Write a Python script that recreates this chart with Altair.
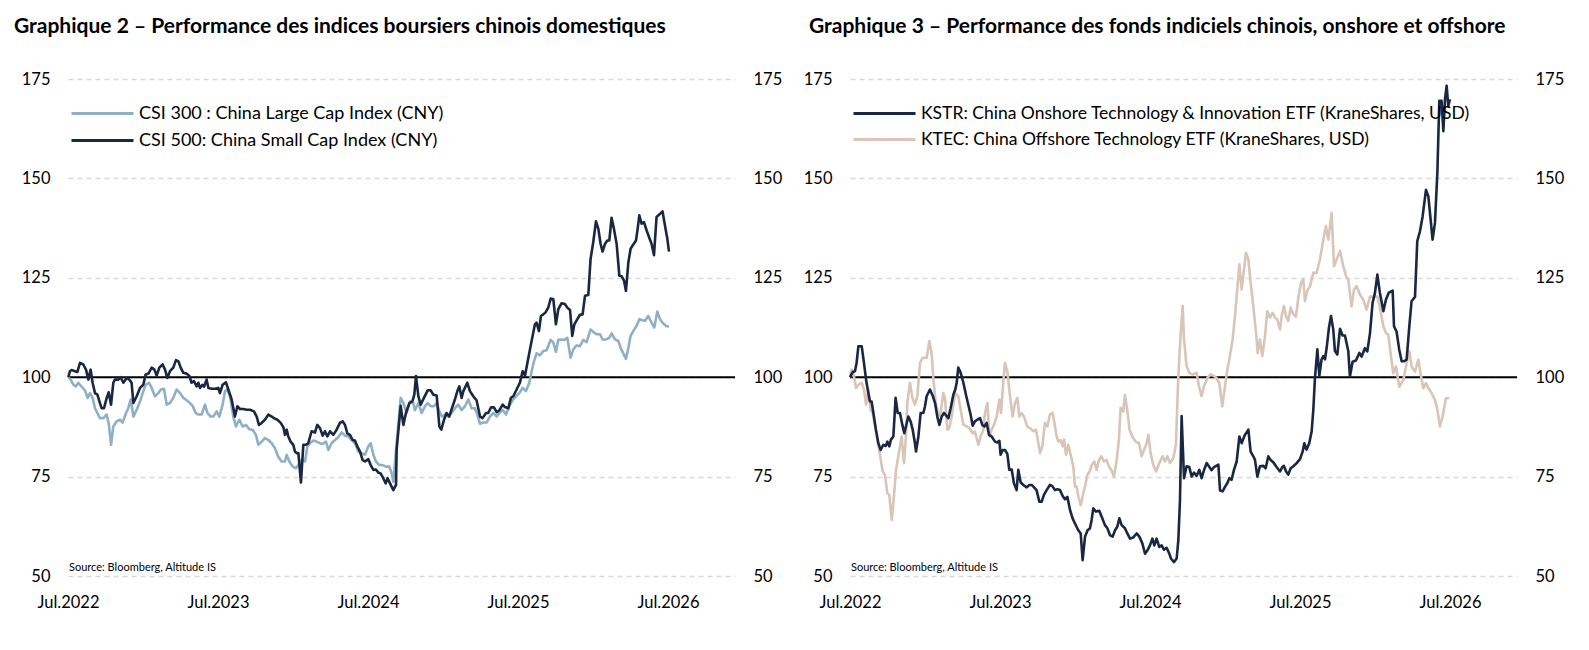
import altair as alt
import pandas as pd

FONT = "Lato"
NAVY = "#1a2742"
BLUE = "#8db0c6"
BEIGE = "#d9c4b8"

X_TICKS = [2022.5, 2023.5, 2024.5, 2025.5, 2026.5]
Y_TICKS = [50, 75, 100, 125, 150, 175]
SOURCE = "Source: Bloomberg, Altitude IS"

TITLE_LEFT = "Graphique 2 – Performance des indices boursiers chinois domestiques"
TITLE_RIGHT = "Graphique 3 – Performance des fonds indiciels chinois, onshore et offshore"

NAME_CSI300 = "CSI 300 : China Large Cap Index (CNY)"
NAME_CSI500 = "CSI 500: China Small Cap Index (CNY)"
NAME_KSTR = "KSTR: China Onshore Technology & Innovation ETF (KraneShares, USD)"
NAME_KTEC = "KTEC: China Offshore Technology ETF (KraneShares, USD)"

# (decimal year, index level, base 100)
csi300 = [
    (2022.502, 100.0), (2022.518, 99.4), (2022.536, 98.1), (2022.553, 97.7), (2022.569, 98.6), (2022.591, 97.6),
    (2022.613, 96.7), (2022.631, 94.8), (2022.647, 96.0), (2022.664, 94.8), (2022.680, 92.2), (2022.696, 91.0),
    (2022.713, 89.7), (2022.736, 89.7), (2022.758, 90.6), (2022.773, 88.0), (2022.787, 83.0), (2022.802, 87.6),
    (2022.824, 88.9), (2022.847, 89.3), (2022.864, 88.6), (2022.887, 91.0), (2022.902, 92.2), (2022.918, 94.4),
    (2022.936, 90.1), (2022.958, 91.8), (2022.980, 93.9), (2022.998, 96.0), (2023.018, 98.1), (2023.040, 98.6),
    (2023.058, 97.3), (2023.080, 95.2), (2023.102, 96.0), (2023.120, 96.9), (2023.140, 97.1), (2023.158, 93.1),
    (2023.180, 93.5), (2023.202, 94.8), (2023.224, 96.9), (2023.247, 96.0), (2023.269, 94.8), (2023.291, 94.2),
    (2023.313, 93.5), (2023.331, 92.8), (2023.351, 91.0), (2023.369, 90.6), (2023.391, 90.6), (2023.413, 93.1),
    (2023.429, 91.0), (2023.451, 90.1), (2023.469, 90.1), (2023.491, 91.4), (2023.509, 90.1), (2023.531, 93.1),
    (2023.547, 96.5), (2023.562, 96.9), (2023.580, 95.2), (2023.602, 90.1), (2023.620, 87.6), (2023.642, 89.3),
    (2023.664, 87.6), (2023.687, 88.0), (2023.709, 86.9), (2023.731, 86.8), (2023.753, 85.5), (2023.769, 83.0),
    (2023.791, 83.8), (2023.813, 84.7), (2023.836, 84.2), (2023.858, 83.4), (2023.880, 82.1), (2023.902, 80.0),
    (2023.924, 78.8), (2023.947, 78.8), (2023.958, 80.5), (2023.976, 78.8), (2023.998, 77.5), (2024.020, 77.1),
    (2024.036, 77.9), (2024.058, 79.2), (2024.080, 78.8), (2024.096, 82.6), (2024.113, 83.4), (2024.136, 84.1),
    (2024.158, 83.8), (2024.180, 83.4), (2024.198, 83.2), (2024.220, 83.8), (2024.236, 81.7), (2024.258, 83.4),
    (2024.280, 84.2), (2024.302, 84.9), (2024.324, 86.1), (2024.347, 85.3), (2024.369, 85.1), (2024.391, 84.2),
    (2024.413, 83.4), (2024.436, 81.3), (2024.458, 80.9), (2024.480, 80.5), (2024.502, 82.6), (2024.518, 83.4),
    (2024.536, 80.5), (2024.553, 78.8), (2024.576, 77.9), (2024.598, 77.9), (2024.620, 77.5), (2024.642, 77.5),
    (2024.658, 75.8), (2024.669, 73.7), (2024.691, 83.4), (2024.718, 94.8), (2024.736, 93.5), (2024.758, 91.0),
    (2024.780, 93.9), (2024.802, 93.5), (2024.813, 91.7), (2024.836, 93.5), (2024.858, 91.0), (2024.880, 92.7),
    (2024.898, 93.5), (2024.918, 92.7), (2024.940, 92.7), (2024.958, 93.5), (2024.976, 91.4), (2024.993, 90.1),
    (2025.013, 90.6), (2025.036, 90.1), (2025.058, 91.0), (2025.080, 92.2), (2025.102, 93.1), (2025.124, 91.7),
    (2025.147, 92.7), (2025.169, 94.4), (2025.191, 92.2), (2025.213, 92.2), (2025.229, 90.6), (2025.247, 88.3),
    (2025.269, 88.6), (2025.291, 88.6), (2025.313, 90.1), (2025.336, 91.0), (2025.358, 90.1), (2025.376, 91.0),
    (2025.398, 91.8), (2025.420, 90.6), (2025.442, 92.7), (2025.464, 94.2), (2025.487, 95.2), (2025.509, 96.0),
    (2025.531, 97.3), (2025.553, 96.5), (2025.576, 98.6), (2025.591, 101.5), (2025.607, 104.0), (2025.624, 106.0),
    (2025.647, 105.5), (2025.669, 106.6), (2025.691, 106.8), (2025.718, 109.4), (2025.736, 108.7), (2025.753, 106.4),
    (2025.769, 109.4), (2025.791, 109.5), (2025.809, 109.4), (2025.829, 109.9), (2025.851, 104.9), (2025.869, 107.0),
    (2025.891, 108.0), (2025.913, 107.8), (2025.936, 109.4), (2025.958, 108.8), (2025.984, 112.0), (2026.002, 111.4),
    (2026.024, 110.8), (2026.047, 110.8), (2026.064, 109.5), (2026.087, 109.5), (2026.109, 109.9), (2026.124, 111.0),
    (2026.147, 109.5), (2026.169, 109.1), (2026.184, 107.4), (2026.202, 106.0), (2026.220, 104.6), (2026.236, 107.4),
    (2026.251, 110.4), (2026.269, 111.6), (2026.291, 112.9), (2026.309, 114.6), (2026.324, 114.4), (2026.347, 114.2),
    (2026.369, 115.4), (2026.391, 113.7), (2026.409, 112.5), (2026.429, 116.5), (2026.447, 114.6), (2026.464, 113.7),
    (2026.487, 112.9), (2026.507, 112.7),
]

csi500 = [
    (2022.502, 100.0), (2022.513, 101.5), (2022.524, 101.8), (2022.547, 101.5), (2022.562, 101.3), (2022.580, 103.6),
    (2022.602, 103.2), (2022.620, 101.9), (2022.636, 99.4), (2022.651, 101.9), (2022.664, 98.6), (2022.680, 96.0),
    (2022.696, 95.6), (2022.713, 93.5), (2022.724, 92.2), (2022.740, 92.2), (2022.758, 94.8), (2022.771, 96.2),
    (2022.787, 93.1), (2022.802, 98.6), (2022.813, 99.4), (2022.836, 99.4), (2022.851, 100.0), (2022.869, 98.6),
    (2022.891, 99.8), (2022.909, 99.4), (2022.924, 98.6), (2022.936, 93.5), (2022.958, 95.2), (2022.980, 97.3),
    (2023.002, 98.1), (2023.018, 100.7), (2023.036, 100.9), (2023.058, 102.4), (2023.076, 101.9), (2023.091, 100.4),
    (2023.109, 102.4), (2023.131, 103.2), (2023.147, 101.9), (2023.162, 99.8), (2023.180, 101.5), (2023.202, 102.4),
    (2023.220, 104.3), (2023.236, 104.0), (2023.251, 102.4), (2023.269, 101.1), (2023.291, 100.9), (2023.309, 100.3),
    (2023.324, 98.6), (2023.340, 99.0), (2023.358, 97.7), (2023.369, 98.6), (2023.380, 97.3), (2023.396, 98.1),
    (2023.407, 97.6), (2023.424, 99.4), (2023.436, 97.3), (2023.458, 97.1), (2023.480, 97.1), (2023.502, 97.3),
    (2023.513, 96.0), (2023.531, 98.1), (2023.553, 98.7), (2023.569, 96.9), (2023.591, 94.4), (2023.613, 90.1),
    (2023.629, 92.7), (2023.647, 92.0), (2023.669, 92.0), (2023.691, 91.8), (2023.713, 91.8), (2023.740, 91.4),
    (2023.758, 90.1), (2023.773, 88.0), (2023.791, 88.5), (2023.813, 89.3), (2023.836, 90.6), (2023.858, 90.1),
    (2023.873, 89.7), (2023.896, 89.3), (2023.918, 88.5), (2023.936, 87.4), (2023.947, 85.5), (2023.958, 86.8),
    (2023.969, 85.1), (2023.984, 83.8), (2024.002, 83.0), (2024.013, 81.3), (2024.024, 80.9), (2024.036, 80.9),
    (2024.053, 73.5), (2024.069, 83.0), (2024.087, 83.0), (2024.102, 83.4), (2024.124, 86.4), (2024.147, 86.1),
    (2024.162, 88.0), (2024.180, 87.2), (2024.198, 85.3), (2024.213, 86.4), (2024.229, 85.1), (2024.247, 86.4),
    (2024.269, 85.5), (2024.291, 86.8), (2024.313, 88.5), (2024.331, 88.9), (2024.347, 88.0), (2024.362, 85.9),
    (2024.380, 85.5), (2024.398, 84.2), (2024.413, 84.1), (2024.429, 82.6), (2024.447, 81.3), (2024.464, 79.2),
    (2024.480, 78.8), (2024.502, 79.4), (2024.518, 77.9), (2024.536, 76.7), (2024.553, 76.8), (2024.569, 76.0),
    (2024.584, 75.8), (2024.602, 74.6), (2024.618, 73.3), (2024.631, 74.6), (2024.647, 73.3), (2024.669, 71.6),
    (2024.687, 72.9), (2024.691, 81.7), (2024.718, 92.8), (2024.736, 88.0), (2024.753, 91.0), (2024.776, 93.5),
    (2024.796, 93.9), (2024.809, 95.6), (2024.820, 100.3), (2024.836, 95.2), (2024.851, 93.1), (2024.873, 94.8),
    (2024.898, 96.7), (2024.918, 96.7), (2024.936, 95.6), (2024.958, 95.4), (2024.976, 87.6), (2024.989, 86.8),
    (2025.007, 89.3), (2025.024, 91.0), (2025.042, 90.1), (2025.060, 92.2), (2025.078, 94.2), (2025.096, 96.5),
    (2025.109, 97.7), (2025.124, 94.8), (2025.136, 96.5), (2025.162, 98.6), (2025.180, 96.5), (2025.202, 95.2),
    (2025.224, 94.2), (2025.247, 90.1), (2025.264, 89.7), (2025.287, 91.0), (2025.302, 91.0), (2025.320, 92.4),
    (2025.340, 92.4), (2025.358, 91.2), (2025.376, 91.7), (2025.398, 93.1), (2025.413, 92.5), (2025.436, 92.2),
    (2025.453, 94.8), (2025.469, 95.2), (2025.491, 96.9), (2025.513, 98.6), (2025.531, 101.5), (2025.547, 100.4),
    (2025.564, 103.8), (2025.580, 107.0), (2025.598, 110.4), (2025.613, 113.3), (2025.624, 113.7), (2025.640, 111.6),
    (2025.653, 115.4), (2025.669, 115.8), (2025.684, 116.3), (2025.702, 117.5), (2025.718, 119.8), (2025.736, 119.6),
    (2025.753, 113.3), (2025.769, 117.1), (2025.791, 118.6), (2025.813, 118.4), (2025.829, 117.5), (2025.847, 116.9),
    (2025.862, 110.4), (2025.876, 113.3), (2025.896, 114.6), (2025.913, 115.7), (2025.931, 115.8), (2025.947, 120.5),
    (2025.969, 120.7), (2025.984, 129.7), (2026.002, 134.0), (2026.020, 139.2), (2026.036, 137.3), (2026.051, 133.5),
    (2026.064, 131.6), (2026.080, 133.5), (2026.096, 134.4), (2026.109, 134.4), (2026.124, 140.1), (2026.140, 137.3),
    (2026.158, 133.5), (2026.176, 125.5), (2026.191, 125.4), (2026.207, 124.3), (2026.220, 121.7), (2026.236, 128.9),
    (2026.251, 132.3), (2026.269, 133.4), (2026.287, 134.4), (2026.298, 137.3), (2026.309, 140.7), (2026.324, 138.6),
    (2026.340, 139.0), (2026.358, 136.9), (2026.376, 135.0), (2026.391, 133.5), (2026.407, 130.7), (2026.424, 140.3),
    (2026.442, 140.9), (2026.464, 141.7), (2026.482, 137.7), (2026.496, 134.8), (2026.507, 131.6),
]

kstr = [
    (2022.500, 100.0), (2022.518, 101.3), (2022.533, 101.5), (2022.544, 103.6), (2022.556, 107.8), (2022.578, 107.8),
    (2022.593, 103.6), (2022.607, 99.4), (2022.618, 96.9), (2022.633, 93.9), (2022.644, 93.9), (2022.656, 91.0),
    (2022.673, 86.8), (2022.689, 83.4), (2022.704, 81.7), (2022.722, 83.0), (2022.738, 82.7), (2022.749, 83.8),
    (2022.762, 82.6), (2022.773, 84.3), (2022.789, 85.1), (2022.804, 94.8), (2022.818, 91.0), (2022.833, 91.0),
    (2022.849, 88.0), (2022.862, 85.9), (2022.889, 90.1), (2022.904, 88.9), (2022.918, 86.8), (2022.933, 83.4),
    (2022.940, 81.3), (2022.956, 85.1), (2022.971, 91.0), (2022.989, 91.0), (2023.000, 92.7), (2023.011, 95.2),
    (2023.033, 96.9), (2023.051, 95.4), (2023.067, 93.5), (2023.082, 90.1), (2023.096, 88.0), (2023.111, 90.1),
    (2023.127, 91.0), (2023.156, 89.7), (2023.171, 92.2), (2023.189, 95.6), (2023.202, 96.9), (2023.211, 98.6),
    (2023.222, 102.4), (2023.238, 101.1), (2023.256, 98.6), (2023.273, 95.6), (2023.291, 92.7), (2023.304, 90.6),
    (2023.318, 87.8), (2023.333, 88.9), (2023.349, 89.3), (2023.367, 89.7), (2023.382, 88.0), (2023.396, 87.6),
    (2023.411, 88.5), (2023.427, 85.5), (2023.444, 85.1), (2023.467, 83.8), (2023.482, 83.6), (2023.496, 84.0),
    (2023.504, 80.5), (2023.518, 81.7), (2023.533, 81.7), (2023.549, 80.7), (2023.562, 76.7), (2023.578, 76.8),
    (2023.593, 73.3), (2023.611, 71.6), (2023.622, 76.7), (2023.638, 73.5), (2023.656, 72.9), (2023.678, 72.3),
    (2023.696, 72.9), (2023.711, 72.9), (2023.727, 72.3), (2023.744, 71.6), (2023.762, 68.7), (2023.778, 68.7),
    (2023.793, 70.4), (2023.811, 71.6), (2023.833, 72.9), (2023.849, 72.6), (2023.867, 71.6), (2023.882, 71.8),
    (2023.900, 71.6), (2023.918, 70.1), (2023.933, 69.3), (2023.949, 69.9), (2023.967, 66.6), (2023.984, 64.5),
    (2024.000, 63.2), (2024.022, 61.5), (2024.038, 60.7), (2024.051, 54.0), (2024.067, 59.9), (2024.084, 61.5),
    (2024.100, 62.0), (2024.111, 64.1), (2024.122, 67.0), (2024.140, 66.2), (2024.162, 66.4), (2024.178, 64.9),
    (2024.200, 62.8), (2024.216, 62.0), (2024.233, 60.3), (2024.251, 59.9), (2024.267, 61.5), (2024.282, 62.4),
    (2024.296, 64.5), (2024.311, 62.8), (2024.333, 62.0), (2024.349, 60.7), (2024.367, 59.4), (2024.389, 59.7),
    (2024.411, 60.7), (2024.429, 59.9), (2024.449, 58.2), (2024.467, 55.6), (2024.482, 56.4), (2024.500, 57.7),
    (2024.516, 59.4), (2024.529, 57.7), (2024.544, 59.4), (2024.562, 57.3), (2024.578, 57.7), (2024.593, 56.6),
    (2024.611, 57.1), (2024.627, 55.8), (2024.640, 54.4), (2024.660, 53.5), (2024.678, 54.4), (2024.689, 59.0),
    (2024.700, 69.1), (2024.711, 90.2), (2024.727, 74.6), (2024.744, 77.6), (2024.762, 77.4), (2024.778, 75.0),
    (2024.793, 76.0), (2024.811, 75.2), (2024.829, 76.7), (2024.844, 74.6), (2024.860, 76.6), (2024.878, 78.4),
    (2024.896, 77.4), (2024.911, 76.6), (2024.927, 77.4), (2024.956, 78.0), (2024.967, 71.5), (2024.984, 71.3),
    (2025.000, 72.4), (2025.016, 73.4), (2025.029, 74.6), (2025.044, 74.2), (2025.060, 76.7), (2025.078, 78.8),
    (2025.096, 85.1), (2025.111, 83.4), (2025.133, 85.5), (2025.156, 86.8), (2025.171, 81.3), (2025.189, 80.1),
    (2025.200, 79.2), (2025.216, 75.0), (2025.233, 77.6), (2025.256, 77.7), (2025.271, 77.1), (2025.289, 80.1),
    (2025.304, 79.2), (2025.322, 78.6), (2025.344, 77.4), (2025.367, 76.3), (2025.382, 77.4), (2025.393, 77.7),
    (2025.407, 76.3), (2025.422, 75.5), (2025.438, 77.1), (2025.456, 77.6), (2025.478, 78.4), (2025.500, 79.4),
    (2025.518, 81.3), (2025.529, 83.4), (2025.544, 81.8), (2025.562, 83.4), (2025.578, 86.4), (2025.589, 91.8),
    (2025.600, 99.8), (2025.616, 107.0), (2025.629, 100.3), (2025.644, 104.5), (2025.656, 105.3), (2025.667, 104.5),
    (2025.678, 107.4), (2025.693, 112.4), (2025.707, 115.4), (2025.722, 112.0), (2025.733, 106.6), (2025.749, 105.7),
    (2025.767, 112.2), (2025.784, 110.5), (2025.800, 110.5), (2025.822, 106.6), (2025.833, 100.2), (2025.851, 103.9),
    (2025.873, 104.2), (2025.896, 106.1), (2025.911, 105.2), (2025.933, 107.3), (2025.949, 106.5), (2025.967, 111.1),
    (2025.984, 118.7), (2026.000, 121.2), (2026.016, 125.8), (2026.033, 121.2), (2026.056, 116.6), (2026.073, 119.5),
    (2026.091, 121.2), (2026.118, 121.8), (2026.127, 112.8), (2026.144, 111.5), (2026.162, 106.9), (2026.178, 104.0),
    (2026.193, 104.0), (2026.211, 104.4), (2026.229, 112.8), (2026.244, 119.1), (2026.267, 120.2), (2026.282, 134.2),
    (2026.300, 136.7), (2026.318, 140.5), (2026.340, 147.1), (2026.356, 145.5), (2026.371, 139.7), (2026.384, 134.6),
    (2026.400, 138.8), (2026.416, 151.4), (2026.429, 169.5), (2026.444, 169.5), (2026.456, 161.9), (2026.467, 169.9),
    (2026.478, 173.3), (2026.489, 168.2), (2026.500, 169.9),
]

ktec = [
    (2022.500, 100.0), (2022.511, 101.9), (2022.522, 101.1), (2022.540, 97.3), (2022.556, 98.1), (2022.578, 98.6),
    (2022.593, 96.9), (2022.607, 93.1), (2022.622, 96.9), (2022.638, 91.8), (2022.651, 91.0), (2022.667, 87.6),
    (2022.682, 84.3), (2022.700, 80.5), (2022.718, 76.3), (2022.733, 75.4), (2022.749, 70.8), (2022.762, 70.4),
    (2022.778, 64.1), (2022.789, 68.3), (2022.807, 76.7), (2022.829, 81.7), (2022.844, 85.1), (2022.860, 78.4),
    (2022.873, 85.1), (2022.882, 93.5), (2022.900, 98.6), (2022.916, 94.8), (2022.933, 93.1), (2022.949, 95.2),
    (2022.967, 103.6), (2022.984, 104.9), (2023.011, 104.9), (2023.029, 109.1), (2023.044, 106.1), (2023.056, 99.4),
    (2023.071, 93.9), (2023.089, 90.1), (2023.104, 91.0), (2023.122, 96.0), (2023.133, 94.8), (2023.149, 86.8),
    (2023.162, 87.2), (2023.178, 90.1), (2023.200, 96.0), (2023.222, 95.2), (2023.238, 91.8), (2023.256, 88.0),
    (2023.282, 87.6), (2023.300, 87.0), (2023.318, 85.9), (2023.333, 86.3), (2023.356, 83.0), (2023.371, 85.1),
    (2023.389, 86.8), (2023.400, 91.0), (2023.416, 93.5), (2023.429, 85.1), (2023.444, 86.8), (2023.460, 88.0),
    (2023.478, 90.1), (2023.496, 94.4), (2023.507, 91.0), (2023.522, 98.6), (2023.533, 103.6), (2023.549, 101.5),
    (2023.567, 95.2), (2023.584, 90.1), (2023.600, 93.5), (2023.616, 94.8), (2023.629, 90.1), (2023.644, 91.0),
    (2023.660, 90.1), (2023.682, 87.6), (2023.700, 87.2), (2023.722, 86.4), (2023.740, 86.8), (2023.756, 83.4),
    (2023.767, 80.9), (2023.782, 82.6), (2023.800, 88.5), (2023.816, 87.6), (2023.833, 90.6), (2023.851, 91.0),
    (2023.867, 87.6), (2023.878, 85.1), (2023.889, 83.8), (2023.904, 84.2), (2023.918, 82.6), (2023.927, 84.3),
    (2023.940, 80.5), (2023.956, 83.0), (2023.971, 80.5), (2023.989, 77.5), (2024.000, 72.5), (2024.011, 72.5),
    (2024.022, 70.0), (2024.038, 67.8), (2024.051, 70.0), (2024.067, 72.5), (2024.082, 75.4), (2024.098, 76.3),
    (2024.113, 78.0), (2024.129, 78.8), (2024.144, 76.7), (2024.160, 79.2), (2024.176, 80.1), (2024.193, 78.8),
    (2024.211, 79.2), (2024.227, 77.5), (2024.242, 76.7), (2024.260, 75.0), (2024.278, 79.2), (2024.293, 84.3),
    (2024.304, 92.3), (2024.322, 91.4), (2024.333, 95.6), (2024.351, 91.0), (2024.364, 86.8), (2024.382, 85.1),
    (2024.404, 83.8), (2024.427, 83.4), (2024.444, 80.1), (2024.460, 81.7), (2024.478, 83.4), (2024.489, 85.5),
    (2024.504, 80.9), (2024.522, 77.9), (2024.540, 76.3), (2024.562, 78.4), (2024.584, 80.1), (2024.600, 78.8),
    (2024.616, 80.1), (2024.633, 78.4), (2024.656, 79.7), (2024.673, 83.0), (2024.689, 100.3), (2024.704, 110.4),
    (2024.718, 117.9), (2024.727, 109.5), (2024.744, 102.8), (2024.762, 101.1), (2024.784, 100.7), (2024.811, 101.1),
    (2024.827, 97.7), (2024.844, 95.2), (2024.860, 97.7), (2024.882, 99.8), (2024.904, 100.7), (2024.927, 100.3),
    (2024.944, 99.8), (2024.962, 98.6), (2024.982, 92.7), (2025.000, 97.7), (2025.016, 101.9), (2025.033, 105.3),
    (2025.051, 109.5), (2025.067, 115.4), (2025.082, 122.1), (2025.096, 128.4), (2025.111, 122.1), (2025.127, 127.1),
    (2025.140, 131.3), (2025.156, 129.7), (2025.171, 123.8), (2025.189, 117.9), (2025.207, 111.2), (2025.218, 106.1),
    (2025.233, 109.5), (2025.249, 105.3), (2025.267, 110.3), (2025.282, 116.6), (2025.300, 115.0), (2025.318, 116.2),
    (2025.333, 115.0), (2025.349, 114.5), (2025.367, 112.0), (2025.378, 115.4), (2025.393, 117.9), (2025.407, 115.4),
    (2025.422, 114.1), (2025.438, 117.5), (2025.456, 115.8), (2025.473, 115.2), (2025.489, 120.0), (2025.507, 123.8),
    (2025.522, 124.6), (2025.533, 119.2), (2025.549, 121.7), (2025.567, 122.9), (2025.589, 126.3), (2025.611, 126.2),
    (2025.633, 129.6), (2025.656, 134.6), (2025.673, 138.0), (2025.689, 134.6), (2025.711, 141.3), (2025.727, 127.9),
    (2025.744, 129.6), (2025.767, 131.7), (2025.789, 127.9), (2025.807, 125.4), (2025.822, 124.5), (2025.844, 117.8),
    (2025.860, 122.0), (2025.878, 122.9), (2025.900, 120.8), (2025.922, 119.5), (2025.944, 117.0), (2025.967, 120.3),
    (2025.993, 120.2), (2026.016, 120.3), (2026.033, 117.4), (2026.056, 112.8), (2026.073, 111.1), (2026.089, 110.7),
    (2026.104, 106.1), (2026.122, 101.0), (2026.140, 102.7), (2026.162, 97.6), (2026.189, 99.3), (2026.216, 104.4),
    (2026.229, 106.5), (2026.244, 102.7), (2026.267, 101.4), (2026.289, 104.4), (2026.304, 101.0), (2026.322, 97.2),
    (2026.340, 98.5), (2026.356, 97.2), (2026.378, 96.0), (2026.400, 94.3), (2026.416, 91.8), (2026.433, 87.6),
    (2026.451, 90.1), (2026.473, 94.7), (2026.496, 94.7),
]


def frame(pairs, name):
    return pd.DataFrame({"t": [p[0] for p in pairs], "v": [p[1] for p in pairs], "s": name})


x_enc = alt.X(
    "t:Q",
    scale=alt.Scale(domain=[2022.5, 2026.947], nice=False, zero=False),
    axis=alt.Axis(
        values=X_TICKS, labelExpr="'Jul.' + floor(datum.value)", title=None,
        grid=False, domain=False, ticks=False, tickSize=0, labelPadding=18,
        labelFont=FONT, labelFontSize=16.5, labelColor="black", labelFlush=False,
    ),
)
y_scale = alt.Scale(domain=[50, 175], nice=False, zero=False)


def y_axis(orient, grid):
    return alt.Axis(
        orient=orient, values=Y_TICKS, title=None, grid=grid, gridDash=[5, 4],
        gridColor="#d9d9d9", gridWidth=1.3, domain=False, ticks=False, tickSize=0,
        labelPadding=18, labelFont=FONT, labelFontSize=16.5, labelColor="black",
    )


def panel(legend_order, colors, draw_order, title, title_dx, legend_size):
    color_scale = alt.Scale(domain=legend_order, range=colors)
    legend = alt.Legend(
        orient="none", legendX=2, legendY=26, title=None, symbolType="stroke",
        symbolSize=3844, symbolStrokeWidth=3, clipHeight=17, rowPadding=8,
        labelFont=FONT, labelFontSize=legend_size, labelColor="black", labelOffset=4,
        labelLimit=700, padding=0,
    )
    rule = alt.Chart(pd.DataFrame({"v": [100]})).mark_rule(color="black", strokeWidth=2).encode(
        y=alt.Y("v:Q", scale=y_scale, axis=y_axis("right", False))
    )
    layers = [rule]
    for i, (name, pairs) in enumerate(draw_order):
        layers.append(
            alt.Chart(frame(pairs, name)).mark_line(strokeWidth=2.6, strokeJoin="round").encode(
                x=x_enc,
                y=alt.Y("v:Q", scale=y_scale, axis=y_axis("left", True) if i == 0 else None),
                color=alt.Color("s:N", scale=color_scale, legend=legend),
            )
        )
    src = alt.Chart(pd.DataFrame({"t": [2022.5], "v": [50], "label": [SOURCE]})).mark_text(
        align="left", baseline="bottom", dx=1, dy=-3, font=FONT, fontSize=11, color="black"
    ).encode(x=x_enc, y=alt.Y("v:Q", scale=y_scale, axis=None), text="label:N")
    layers.append(src)
    return alt.layer(*layers).resolve_axis(y="independent").properties(
        width=667, height=497,
        title=alt.TitleParams(
            title, anchor="start", frame="group", dx=title_dx, offset=13, baseline="bottom",
            font=FONT, fontSize=21, fontWeight="bold", color="black",
        ),
    )


left = panel(
    [NAME_CSI300, NAME_CSI500], [BLUE, NAVY],
    [(NAME_CSI300, csi300), (NAME_CSI500, csi500)],
    TITLE_LEFT, -54, 18,
)
right = panel(
    [NAME_KSTR, NAME_KTEC], [NAVY, BEIGE],
    [(NAME_KTEC, ktec), (NAME_KSTR, kstr)],
    TITLE_RIGHT, -41, 17.5,
)

chart = (
    alt.hconcat(left, right, spacing=115, bounds="flush")
    .resolve_scale(color="independent")
    .properties(padding={"left": 6, "top": 8, "right": 5, "bottom": 5}, background="white")
    .configure_view(strokeWidth=0)
)

chart.save("out.html", embed_options={"renderer": "svg", "actions": False})
